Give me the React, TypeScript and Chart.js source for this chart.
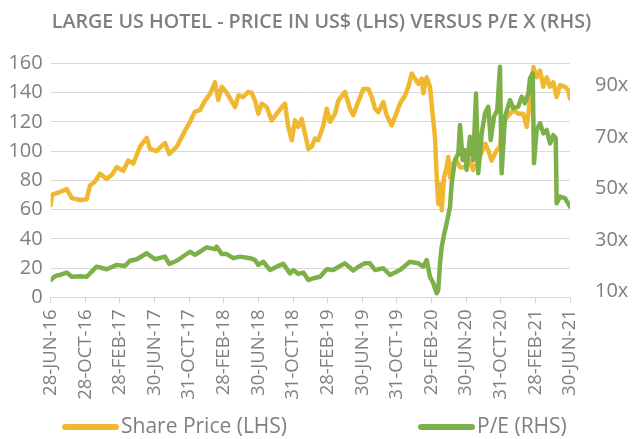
import React, { useEffect, useRef } from "react";
import { Chart, registerables } from "chart.js";

Chart.register(...registerables);

const TITLE = "LARGE US HOTEL - PRICE IN US$ (LHS) VERSUS P/E X (RHS)";
const SERIES_LABELS = ["Share Price (LHS)", "P/E (RHS)"];
const X_TICK_LABELS = [
  "28-JUN-16", "28-OCT-16", "28-FEB-17", "30-JUN-17", "31-OCT-17", "28-FEB-18",
  "30-JUN-18", "31-OCT-18", "28-FEB-19", "30-JUN-19", "31-OCT-19", "29-FEB-20",
  "30-JUN-20", "31-OCT-20", "28-FEB-21", "30-JUN-21",
];
// months since 28-Jun-2016
const X_TICK_MONTHS = [0, 4, 8, 12, 16, 20, 24, 28, 32, 36, 40, 44, 48, 52, 56, 60];
const LEFT_TICKS = [0, 20, 40, 60, 80, 100, 120, 140, 160];
const RIGHT_TICKS = [10, 30, 50, 70, 90];

const PRICE_MONTHS = [
  0, 0.15, 0.6, 1.07, 1.85, 2.43, 3.0, 3.5, 4.16, 4.54, 5.1, 5.7, 6.47, 7.1, 7.63, 8.39, 8.97, 9.54,
  10.32, 11.09, 11.47, 12.25, 12.74, 13.2, 13.7, 14.56, 15.52, 16.1, 16.67, 17.25, 17.83, 18.4, 18.98,
  19.36, 19.76, 20.33, 20.72, 21.3, 21.68, 22.25, 22.83, 23.22, 23.6, 23.99, 24.38, 24.96, 25.53, 26.11,
  26.69, 27.07, 27.45, 27.85, 28.23, 28.61, 29.0, 29.38, 29.76, 30.16, 30.54, 30.92, 31.5, 31.89, 32.27,
  32.85, 33.23, 34.0, 34.58, 34.96, 35.36, 36.12, 36.7, 37.09, 37.47, 37.85, 38.43, 38.82, 39.4, 39.98,
  40.36, 40.94, 41.32, 41.71, 42.09, 42.47, 42.87, 43.05, 43.44, 43.82, 44.2, 44.4, 44.6, 44.78, 44.98,
  45.18, 45.44, 45.75, 45.94, 46.14, 46.52, 46.9, 47.29, 47.86, 48.44, 48.8, 49.4, 49.83, 50.21, 50.55,
  50.95, 51.53, 51.91, 52.2, 52.69, 53.45, 54.03, 54.6, 55.0, 55.38, 55.77, 56.15, 56.54, 56.92, 57.31,
  57.69, 58.07, 58.46, 58.84, 59.42, 59.8, 60,
];
const PRICE_VALUES = [
  63, 70, 71, 72, 74, 68, 67, 66.5, 67, 76.5, 79, 84.5, 81, 84, 89, 86.5, 93.5, 91.5,
  103, 109, 101.5, 100, 103, 105.5, 98, 103, 114, 120, 127, 128, 134.5, 139, 147,
  135, 144, 140, 136, 130, 138, 137, 140.5, 140, 134.5, 125.5, 132.5, 130, 121, 125.5,
  130, 132.5, 116.5, 107.5, 121, 116.5, 122, 112, 101.5, 103, 108.5, 107.5, 117.5, 129, 120,
  125.5, 134.5, 140.5, 129, 124.5, 131, 142.5, 142.5, 137, 129, 126.5, 133.5, 124.5, 117.5, 126.5,
  132.5, 138, 144, 153, 149.5, 146, 149.5, 139.5, 150.5, 144, 121, 109.5, 82, 64, 77.5,
  59.5, 82, 89, 96, 82, 91.5, 93.5, 89, 89, 93.5, 87, 93.5, 100, 105, 100.5,
  93.5, 100.5, 103, 118, 123, 128, 125.5, 125.5, 116.5, 134.5, 157.5, 150.5, 155, 144, 150.5,
  144, 147, 137, 145, 144, 141.5, 136,
];

const PE_MONTHS = [
  0, 0.5, 1.07, 1.85, 2.43, 3.4, 4.16, 5.31, 6.47, 7.63, 8.58, 9.16, 9.94, 11.09, 12.05, 13.2, 13.7,
  14.56, 16.1, 16.67, 17.25, 18.02, 18.98, 19.18, 19.76, 20.33, 21.1, 21.87, 23.03, 23.6, 23.99, 24.56,
  25.34, 26.11, 26.87, 27.65, 28.03, 28.61, 29.19, 29.76, 30.34, 31.12, 31.89, 32.65, 33.43, 34.0, 34.96,
  35.54, 36.31, 36.89, 37.47, 38.43, 39.2, 40.36, 41.5, 42.47, 43.05, 43.44, 43.82, 44.2, 44.6, 44.78,
  44.98, 45.18, 45.44, 45.75, 46.14, 46.33, 46.71, 47.1, 47.29, 47.6, 47.86, 48.06, 48.44, 48.83, 49.14,
  49.4, 49.8, 50.18, 50.56, 50.84, 51.22, 51.6, 51.91, 52.1, 52.49, 53.07, 53.45, 54.03, 54.42, 54.8,
  55.18, 55.38, 55.69, 55.84, 56.15, 56.54, 56.92, 57.31, 57.69, 58.07, 58.35, 58.46, 58.84, 59.42, 60,
];
const PE_VALUES = [
  14.5, 16, 16.5, 17.4, 15.8, 16, 15.8, 19.7, 18.7, 20.4, 20, 22, 22.6, 24.9, 22.6, 23.6, 20.8,
  22, 25.5, 24.3, 25.5, 27.2, 26.5, 27.5, 24.6, 24.6, 23, 23.6, 23, 22.3, 20.4, 21.6,
  18.4, 19.7, 20.8, 17.1, 18.4, 16.9, 17.4, 14.5, 15.2, 15.8, 18.7, 18.4, 20, 21, 18.2,
  19.7, 21, 21, 18.4, 19.1, 16.5, 18.4, 21.6, 21, 19.7, 22.3, 15.8, 13.3, 9.4, 10.7,
  21, 27.5, 32, 36.6, 43, 52.1, 61.1, 63.7, 74.7, 61.1, 65, 57.3, 70.2, 61.1, 87,
  56, 71.5, 79.3, 81.8, 68.9, 78, 80.6, 97.4, 56, 78, 84.4, 81.2, 81.9, 85.8, 83.2,
  87, 92.9, 94.8, 59.9, 72.8, 75.4, 71.5, 72.8, 67.6, 70.8, 69.6, 44.3, 46.9, 46.3, 43,
];

const YELLOW = "#F0B830";
const GREEN = "#7EB049";
const TEXT = "#7F7F7F";
const GRID = "#D9D9D9";
const FONT = "'Open Sans', 'Noto Sans', sans-serif";

const W = 643;
const H = 439;

const legendPlugin = {
  id: "bottomLegend",
  afterDraw(chart: any) {
    const ctx = chart.ctx;
    const starts = [62, 418];
    const y = 427;
    ctx.save();
    chart.data.datasets.forEach((ds: any, i: number) => {
      const x0 = starts[i];
      ctx.strokeStyle = ds.borderColor;
      ctx.lineWidth = 6;
      ctx.lineCap = "round";
      ctx.beginPath();
      ctx.moveTo(x0 + 3, y);
      ctx.lineTo(x0 + 54, y);
      ctx.stroke();
      ctx.fillStyle = TEXT;
      ctx.font = `21px ${FONT}`;
      ctx.textBaseline = "middle";
      ctx.textAlign = "left";
      ctx.fillText(ds.label, x0 + 59, y);
    });
    ctx.restore();
  },
};

export default function App() {
  const ref = useRef<HTMLCanvasElement | null>(null);

  useEffect(() => {
    if (!ref.current) return;
    const chart = new Chart(ref.current, {
      type: "line",
      data: {
        datasets: [
          {
            label: SERIES_LABELS[0],
            data: PRICE_MONTHS.map((m, i) => ({ x: m, y: PRICE_VALUES[i] })),
            borderColor: YELLOW,
            backgroundColor: YELLOW,
            borderWidth: 4.5,
            pointRadius: 0,
            tension: 0,
            borderJoinStyle: "round",
            borderCapStyle: "round",
            yAxisID: "y",
            order: 2,
          },
          {
            label: SERIES_LABELS[1],
            data: PE_MONTHS.map((m, i) => ({ x: m, y: PE_VALUES[i] })),
            borderColor: GREEN,
            backgroundColor: GREEN,
            borderWidth: 4.5,
            pointRadius: 0,
            tension: 0,
            borderJoinStyle: "round",
            borderCapStyle: "round",
            yAxisID: "y1",
            order: 1,
          },
        ],
      },
      options: {
        animation: false,
        responsive: false,
        devicePixelRatio: 1,
        layout: { padding: { left: 0, right: 0, top: 0, bottom: 0 } },
        events: [],
        plugins: {
          legend: { display: false },
          tooltip: { enabled: false },
          title: {
            display: true,
            text: TITLE,
            color: TEXT,
            font: { family: FONT, size: 19.7, weight: "600" },
            padding: { top: 11, bottom: 28.7 },
          },
        },
        scales: {
          x: {
            type: "linear",
            position: "bottom",
            min: 0,
            max: 60,
            afterBuildTicks: (s: any) => {
              s.ticks = X_TICK_MONTHS.map((v) => ({ value: v }));
            },
            afterFit: (s: any) => {
              s.height = H - 297.3;
            },
            ticks: {
              autoSkip: false,
              maxRotation: 90,
              minRotation: 90,
              padding: 6,
              color: TEXT,
              font: { family: FONT, size: 18.5 },
              callback: (_v: any, i: number) => X_TICK_LABELS[i],
            },
            grid: { drawOnChartArea: false, drawTicks: true, tickLength: 6, color: GRID },
            border: { display: true, color: GRID },
          },
          y: {
            position: "left",
            min: 0,
            max: 160,
            afterBuildTicks: (s: any) => {
              s.ticks = LEFT_TICKS.map((v) => ({ value: v }));
            },
            afterFit: (s: any) => {
              s.width = 50.7;
            },
            ticks: { padding: 8, color: TEXT, font: { family: FONT, size: 20 } },
            grid: { color: GRID, drawTicks: false, lineWidth: 1 },
            border: { display: false },
          },
          y1: {
            position: "right",
            min: 7.8,
            max: 98.7,
            afterBuildTicks: (s: any) => {
              s.ticks = RIGHT_TICKS.map((v) => ({ value: v }));
            },
            afterFit: (s: any) => {
              s.width = W - 570;
            },
            ticks: {
              padding: 25,
              color: TEXT,
              font: { family: FONT, size: 20 },
              callback: (v: any) => `${v}x`,
            },
            grid: { drawOnChartArea: false, drawTicks: false },
            border: { display: false },
          },
        },
      },
      plugins: [legendPlugin],
    } as any);
    return () => chart.destroy();
  }, []);

  return (
    <div style={{ position: "absolute", left: 0, top: 0, width: W, height: H, background: "#fff" }}>
      <canvas ref={ref} width={W} height={H} style={{ width: W, height: H, display: "block" }} />
    </div>
  );
}
